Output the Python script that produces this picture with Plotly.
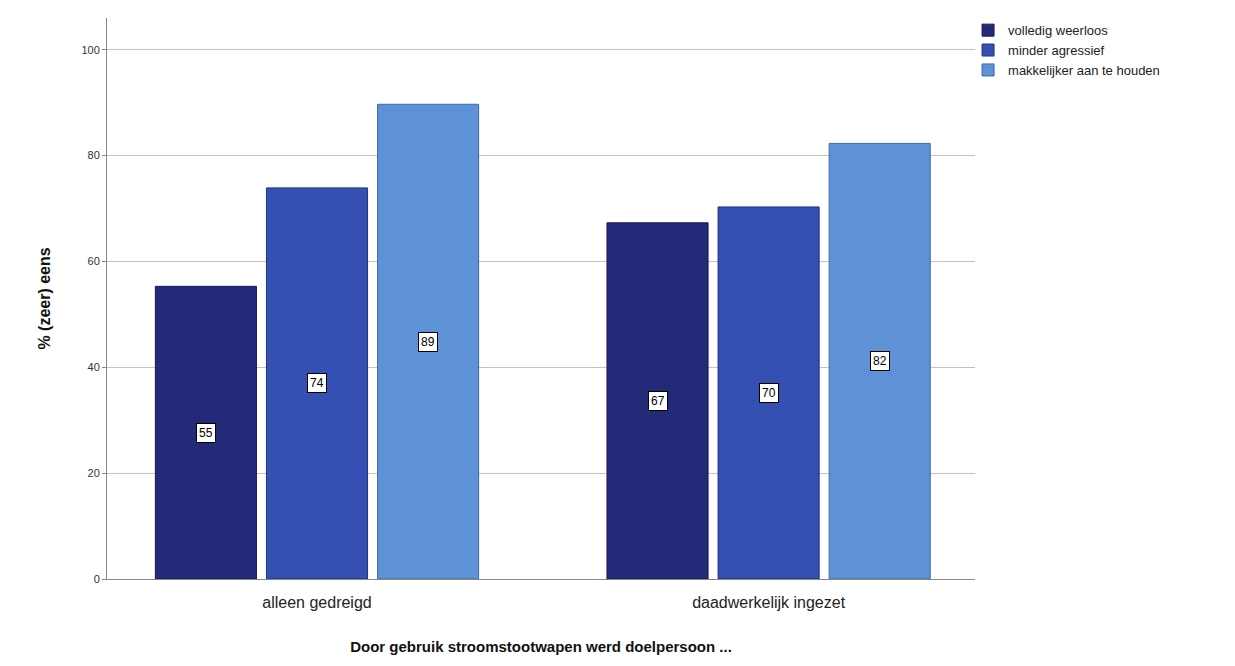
import plotly.graph_objects as go

categories = ["alleen gedreigd", "daadwerkelijk ingezet"]
series_names = ["volledig weerloos", "minder agressief", "makkelijker aan te houden"]
values = {
    "volledig weerloos": [55.3, 67.3],
    "minder agressief": [73.9, 70.3],
    "makkelijker aan te houden": [89.7, 82.3],
}
labels = {
    "volledig weerloos": ["55", "67"],
    "minder agressief": ["74", "70"],
    "makkelijker aan te houden": ["89", "82"],
}
colors = ["#232a78", "#3350b2", "#5d92d6"]
outline = ["#161a50", "#1f3580", "#3c6aaa"]
y_ticks = [0, 20, 40, 60, 80, 100]

bargap = 0.262
bargroupgap = 0.09
n = len(series_names)
slot = (1 - bargap) / n

fig = go.Figure()
xs = list(range(len(categories)))
for j, name in enumerate(series_names):
    fig.add_trace(go.Bar(
        x=xs, y=values[name], name=name,
        marker=dict(color=colors[j], line=dict(color=outline[j], width=1)),
    ))
    for i, x in enumerate(xs):
        fig.add_annotation(
            x=x + (j - (n - 1) / 2) * slot, y=values[name][i] / 2,
            text=labels[name][i], showarrow=False,
            bgcolor="white", bordercolor="black", borderwidth=1, borderpad=2,
            font=dict(family="Liberation Sans, Arial", size=12, color="black"),
        )

fig.update_layout(
    width=1219, height=650,
    barmode="group", bargap=bargap, bargroupgap=bargroupgap,
    paper_bgcolor="white", plot_bgcolor="white",
    margin=dict(l=99, r=252, t=7, b=79),
    font=dict(family="Liberation Sans, Arial", color="#222"),
    legend=dict(x=0.992, y=1.005, xanchor="left", yanchor="top",
                font=dict(size=13, color="#222"), tracegroupgap=0,
                itemwidth=30, bgcolor="rgba(0,0,0,0)"),
    xaxis=dict(
        tickvals=xs, ticktext=categories, range=[-0.465, 1.457],
        showgrid=False, showline=True, linecolor="#888", linewidth=1,
        ticks="", tickfont=dict(size=16, color="#222"), ticklabelstandoff=9,
        title=dict(text="<b>Door gebruik stroomstootwapen werd doelpersoon ...</b>",
                   font=dict(size=15, color="#111"), standoff=31),
        zeroline=False, automargin=False,
    ),
    yaxis=dict(
        range=[0, 106], tickvals=y_ticks,
        showgrid=True, gridcolor="#dcbcae", gridwidth=1,
        showline=True, linecolor="#888", linewidth=1,
        ticks="outside", ticklen=4, tickcolor="#888",
        tickfont=dict(size=11, color="#333"),
        title=dict(text="<b>% (zeer) eens</b>", font=dict(size=16, color="#111"), standoff=26),
        zeroline=False,
    ),
)

fig.write_html("out.html")
